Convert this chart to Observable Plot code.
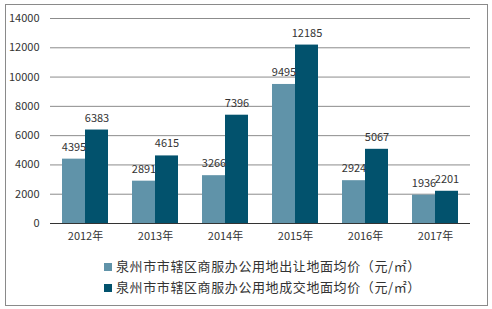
<!DOCTYPE html>
<html><head><meta charset="utf-8">
<script src="https://cdn.jsdelivr.net/npm/d3@7"></script>
<script src="https://cdn.jsdelivr.net/npm/@observablehq/plot@0.6"></script>
<style>
body{margin:0;background:#fff;font-family:"Noto Sans CJK SC",sans-serif;}
#frame{position:absolute;left:5px;top:4px;width:481px;height:300px;border:1px solid #8a8a8a;}
#chart{position:absolute;left:0;top:0;}
#legend{position:absolute;left:104px;top:255px;font-size:13px;color:#333;line-height:21px;letter-spacing:0.6px;}
#legend .sw{display:inline-block;width:8px;height:8px;margin-right:4px;vertical-align:0px;}
</style></head>
<body>
<div id="frame"></div>
<div id="chart"></div>
<div id="legend"></div>
<script>
const years = ["2012年","2013年","2014年","2015年","2016年","2017年"];
const seriesNames = ["泉州市市辖区商服办公用地出让地面均价（元/㎡）","泉州市市辖区商服办公用地成交地面均价（元/㎡）"];
const transferPrice = [4395, 2891, 3266, 9495, 2924, 1936];
const dealPrice = [6383, 4615, 7396, 12185, 5067, 2201];
const colors = ["#6093a9", "#02526d"];
const yTicks = [0,2000,4000,6000,8000,10000,12000,14000];

const data = [];
years.forEach((y,i)=>{
  data.push({year:y, series:seriesNames[0], value:transferPrice[i]});
  data.push({year:y, series:seriesNames[1], value:dealPrice[i]});
});

const chart = Plot.plot({
  width:492, height:250,
  marginLeft:49, marginRight:22, marginTop:18, marginBottom:27,
  style:{fontFamily:'"Noto Sans CJK SC",sans-serif', fontSize:"11px", color:"#333", background:"transparent"},
  fx:{domain:years, padding:0, label:null, axis:"bottom", tickSize:0, tickPadding:9},
  x:{domain:seriesNames, paddingInner:0, paddingOuter:0.49, axis:null},
  y:{domain:[0,14000], ticks:yTicks, label:null},
  color:{domain:seriesNames, range:colors},
  marks:[
    Plot.gridY(yTicks.filter(t=>t>0), {stroke:"#8c8c8c", strokeOpacity:1, facetAnchor:null}),
    Plot.axisY(yTicks, {tickSize:0, tickPadding:11, label:null, fontSize:11, tickFormat:d=>String(d)}),
    Plot.barY(data, {fx:"year", x:"series", y:"value", fill:"series"}),
    Plot.text(data, {fx:"year", x:"series", y:"value", text:d=>String(d.value), dy:-12, fill:"#333", fontSize:11}),
    Plot.ruleY([0], {stroke:"#333", strokeWidth:1, facetAnchor:null})
  ]
});
document.getElementById("chart").appendChild(chart);

const lg = document.getElementById("legend");
seriesNames.forEach((s,i)=>{
  const row = document.createElement("div");
  row.innerHTML = `<span class="sw" style="background:${colors[i]}"></span>${s}`;
  lg.appendChild(row);
});
</script>
</body></html>
